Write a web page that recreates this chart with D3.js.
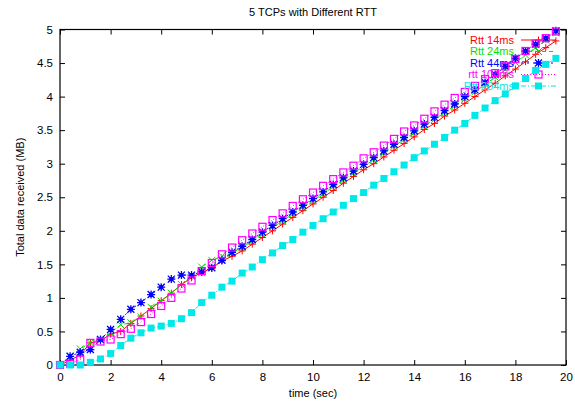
<!DOCTYPE html>
<html>
<head>
<meta charset="utf-8">
<script src="https://cdn.jsdelivr.net/npm/d3@7"></script>
<style>
  html, body { margin: 0; padding: 0; background: #fff; }
  svg { display: block; font-family: "Liberation Sans", Arial, Helvetica, sans-serif; }
</style>
</head>
<body>
<svg id="chart" width="575" height="402"></svg>
<script>
// Sample times (sec)
const times = [0, 0.4, 0.8, 1.2, 1.6, 2.0, 2.4, 2.8, 3.2, 3.6,
  4.0, 4.4, 4.8, 5.2, 5.6, 6.0, 6.4, 6.8, 7.2, 7.6,
  8.0, 8.4, 8.8, 9.2, 9.6, 10.0, 10.4, 10.8, 11.2, 11.6,
  12.0, 12.4, 12.8, 13.2, 13.6, 14.0, 14.4, 14.8, 15.2, 15.6,
  16.0, 16.4, 16.8, 17.2, 17.6, 18.0, 18.4, 18.8, 19.2, 19.6];

// Total data received (MB) for each flow
const rtt14 = [0, 0.07, 0.15, 0.33, 0.36, 0.46, 0.50, 0.62, 0.73, 0.84,
  0.96, 1.07, 1.20, 1.30, 1.38, 1.44, 1.55, 1.62, 1.70, 1.80,
  1.90, 2.00, 2.10, 2.20, 2.30, 2.40, 2.50, 2.60, 2.71, 2.81,
  2.91, 3.00, 3.10, 3.20, 3.30, 3.40, 3.51, 3.60, 3.71, 3.80,
  3.90, 4.00, 4.10, 4.20, 4.31, 4.41, 4.52, 4.63, 4.73, 4.83];
const rtt24 = [0, 0.13, 0.24, 0.33, 0.38, 0.48, 0.60, 0.63, 0.72, 0.86,
  0.95, 1.07, 1.20, 1.32, 1.46, 1.56, 1.62, 1.67, 1.75, 1.85,
  1.95, 2.05, 2.15, 2.25, 2.35, 2.45, 2.55, 2.66, 2.76, 2.86,
  2.96, 3.06, 3.16, 3.26, 3.36, 3.46, 3.56, 3.66, 3.76, 3.86,
  3.96, 4.07, 4.18, 4.29, 4.40, 4.51, 4.62, 4.73, 4.84, 4.95];
const rtt44 = [0, 0.13, 0.19, 0.23, 0.38, 0.53, 0.68, 0.83, 0.93, 1.05,
  1.16, 1.28, 1.34, 1.34, 1.39, 1.45, 1.56, 1.68, 1.77, 1.87,
  1.98, 2.08, 2.18, 2.28, 2.38, 2.48, 2.58, 2.69, 2.79, 2.89,
  2.99, 3.09, 3.19, 3.29, 3.39, 3.49, 3.59, 3.69, 3.79, 3.89,
  4.00, 4.10, 4.21, 4.33, 4.45, 4.57, 4.68, 4.78, 4.87, 4.98];
const rtt104 = [0, 0.02, 0.08, 0.33, 0.35, 0.38, 0.46, 0.54, 0.64, 0.76,
  0.88, 1.00, 1.14, 1.26, 1.40, 1.52, 1.65, 1.75, 1.86, 1.96,
  2.06, 2.16, 2.26, 2.37, 2.47, 2.57, 2.67, 2.77, 2.87, 2.97,
  3.08, 3.17, 3.27, 3.37, 3.48, 3.57, 3.67, 3.78, 3.88, 3.98,
  4.07, 4.16, 4.26, 4.35, 4.45, 4.56, 4.68, 4.79, 4.87, 4.97];
const rtt204 = [0, 0, 0, 0.04, 0.09, 0.17, 0.29, 0.40, 0.48, 0.55,
  0.58, 0.62, 0.69, 0.78, 0.93, 1.04, 1.16, 1.25, 1.37, 1.46,
  1.57, 1.67, 1.78, 1.87, 1.98, 2.08, 2.18, 2.28, 2.38, 2.48,
  2.57, 2.68, 2.78, 2.88, 2.98, 3.09, 3.19, 3.29, 3.39, 3.50,
  3.60, 3.72, 3.83, 3.94, 4.04, 4.16, 4.27, 4.39, 4.48, 4.57];

const seriesNames = ["Rtt 14ms", "Rtt 24ms", "Rtt 44ms", "rtt 104ms", "Rtt 204ms"];
const seriesValues = [rtt14, rtt24, rtt44, rtt104, rtt204];

const xTicks = [0, 2, 4, 6, 8, 10, 12, 14, 16, 18, 20];
const yTicks = [0, 0.5, 1, 1.5, 2, 2.5, 3, 3.5, 4, 4.5, 5];

const titleText = "5 TCPs with Different RTT";
const xLabel = "time (sec)";
const yLabel = "Total data received (MB)";

// Per-series drawing style (gnuplot-like line types and point types)
const styles = [
  { color: "#ff0000", dash: null,        marker: "plus" },
  { color: "#00e000", dash: "4,3",       marker: "cross" },
  { color: "#0000ff", dash: "2,4",       marker: "star" },
  { color: "#ff00ff", dash: "1,2",       marker: "openSquare" },
  { color: "#00e8e8", dash: "5,2,1,2",   marker: "filledSquare" }
];

const svg = d3.select("#chart");
const margin = { left: 60, right: 9, top: 29.5, bottom: 37 };
const W = 575, H = 402;

const x = d3.scaleLinear().domain([0, 20]).range([margin.left, W - margin.right]);
const y = d3.scaleLinear().domain([0, 5]).range([H - margin.bottom, margin.top]);

const tickLen = 5;
const fontSize = 11;
const tickFontSize = 11.5;

// Frame
svg.append("rect")
  .attr("x", x(0)).attr("y", y(5))
  .attr("width", x(20) - x(0)).attr("height", y(0) - y(5))
  .attr("fill", "none").attr("stroke", "#000").attr("stroke-width", 1.2);

// Axes with inward ticks, mirrored on the opposite sides
const axisB = d3.axisBottom(x).tickValues(xTicks).tickSizeInner(-tickLen).tickSizeOuter(0).tickPadding(8).tickFormat(d3.format("d"));
const axisT = d3.axisTop(x).tickValues(xTicks).tickSizeInner(-tickLen).tickSizeOuter(0).tickFormat("");
const axisL = d3.axisLeft(y).tickValues(yTicks).tickSizeInner(-tickLen).tickSizeOuter(0).tickPadding(7).tickFormat(d => d3.format("")(d));
const axisR = d3.axisRight(y).tickValues(yTicks).tickSizeInner(-tickLen).tickSizeOuter(0).tickFormat("");

function styleAxis(g) {
  g.select(".domain").remove();
  g.selectAll(".tick line").attr("stroke", "#000").attr("stroke-width", 1);
  g.selectAll(".tick text").attr("fill", "#000")
    .style("font-size", tickFontSize + "px")
    .style("font-family", "'Liberation Sans', Arial, sans-serif");
}

svg.append("g").attr("transform", `translate(0,${y(0)})`).call(axisB).call(styleAxis);
svg.append("g").attr("transform", `translate(0,${y(5)})`).call(axisT).call(styleAxis);
svg.append("g").attr("transform", `translate(${x(0)},0)`).call(axisL).call(styleAxis);
svg.append("g").attr("transform", `translate(${x(20)},0)`).call(axisR).call(styleAxis);

// Titles
svg.append("text").attr("x", (x(0) + x(20)) / 2).attr("y", 16)
  .attr("text-anchor", "middle").style("font-size", fontSize + "px").text(titleText);
svg.append("text").attr("x", (x(0) + x(20)) / 2).attr("y", 397)
  .attr("text-anchor", "middle").style("font-size", fontSize + "px").text(xLabel);
svg.append("text")
  .attr("transform", `translate(24,${(y(0) + y(5)) / 2}) rotate(-90)`)
  .attr("text-anchor", "middle").style("font-size", fontSize + "px").text(yLabel);

// Marker drawing
function drawMarker(g, type, color, cx, cy) {
  const s = 3.5;
  if (type === "plus") {
    g.append("path").attr("d", `M${cx - s},${cy}H${cx + s}M${cx},${cy - s}V${cy + s}`)
      .attr("stroke", color).attr("stroke-width", 1).attr("fill", "none");
  } else if (type === "cross") {
    g.append("path").attr("d", `M${cx - s},${cy - s}L${cx + s},${cy + s}M${cx - s},${cy + s}L${cx + s},${cy - s}`)
      .attr("stroke", color).attr("stroke-width", 1).attr("fill", "none");
  } else if (type === "star") {
    const r = 4;
    g.append("path").attr("d",
      `M${cx - r},${cy}H${cx + r}M${cx},${cy - r}V${cy + r}` +
      `M${cx - r + 0.5},${cy - r + 0.5}L${cx + r - 0.5},${cy + r - 0.5}M${cx - r + 0.5},${cy + r - 0.5}L${cx + r - 0.5},${cy - r + 0.5}`)
      .attr("stroke", color).attr("stroke-width", 1.3).attr("fill", "none");
    g.append("rect").attr("x", cx - 2).attr("y", cy - 2).attr("width", 4).attr("height", 4).attr("fill", color);
  } else if (type === "openSquare") {
    g.append("rect").attr("x", cx - s).attr("y", cy - s).attr("width", 2 * s).attr("height", 2 * s)
      .attr("stroke", color).attr("stroke-width", 1.2).attr("fill", "none");
  } else if (type === "filledSquare") {
    g.append("rect").attr("x", cx - s).attr("y", cy - s).attr("width", 2 * s).attr("height", 2 * s)
      .attr("fill", color);
  }
}

// Series lines, points and key entries
const line = d3.line().x(d => x(d[0])).y(d => y(d[1]));
const keyTextRight = 514, keySampleX0 = 521, keySampleX1 = 556, keyTop = 40, keyStep = 11.5;

seriesValues.forEach((vals, i) => {
  const st = styles[i];
  const g = svg.append("g");
  const pts = times.map((t, j) => [t, vals[j]]);

  // key entry
  const ky = keyTop + i * keyStep;
  g.append("text").attr("x", keyTextRight).attr("y", ky).attr("dy", "0.35em")
    .attr("text-anchor", "end").attr("fill", st.color)
    .style("font-size", fontSize + "px").text(seriesNames[i]);
  g.append("line").attr("x1", keySampleX0).attr("x2", keySampleX1).attr("y1", ky).attr("y2", ky)
    .attr("stroke", st.color).attr("stroke-width", 1)
    .attr("stroke-dasharray", st.dash);
  drawMarker(g, st.marker, st.color, (keySampleX0 + keySampleX1) / 2, ky);

  g.append("path").datum(pts).attr("d", line)
    .attr("fill", "none").attr("stroke", st.color).attr("stroke-width", 1)
    .attr("stroke-dasharray", st.dash);
  pts.forEach(p => drawMarker(g, st.marker, st.color, x(p[0]), y(p[1])));
});
</script>
</body>
</html>
